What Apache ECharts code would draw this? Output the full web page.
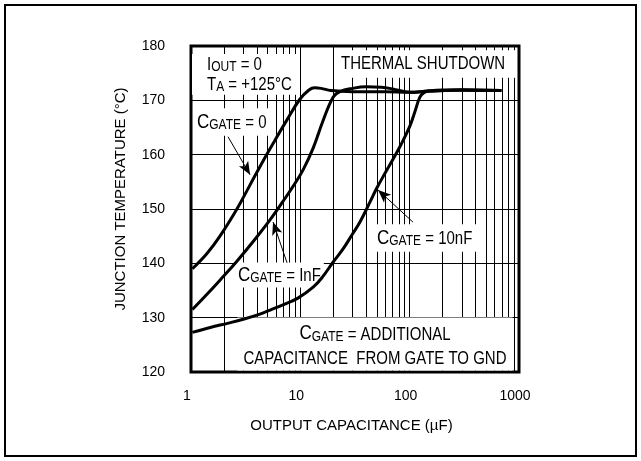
<!DOCTYPE html>
<html>
<head>
<meta charset="utf-8">
<script src="https://cdn.jsdelivr.net/npm/echarts@6/dist/echarts.min.js"></script>
<style>
  html, body { margin: 0; padding: 0; background: #fff; }
  #main { width: 641px; height: 461px; }
</style>
</head>
<body>
<div id="main"></div>
<script>
// junction temperature (C) vs output capacitance (uF)
const cgate0 = [[1.03, 139.0], [1.4, 141.8], [1.84, 145.0], [2.63, 150.0], [3.46, 154.4], [4.55, 158.8],
  [5.5, 161.7], [7.55, 166.4], [9.9, 170.2], [12, 171.9], [13.5, 172.3], [15.5, 172.2], [19, 171.8],
  [30, 171.6], [60, 171.6], [100, 171.5], [150, 171.7], [300, 171.9], [690, 171.8]]
const cgate1n = [[1.03, 131.5], [1.4, 134.3], [1.84, 136.9], [2.63, 140.4], [3.8, 144.3], [5.28, 148.0],
  [6.94, 151.4], [8.8, 154.5], [10.6, 157.2], [13.1, 161.2], [16.1, 166.2], [20, 170.6], [23, 171.6],
  [30, 172.2], [40, 172.5], [55, 172.4], [70, 172.1], [100, 171.5], [150, 171.7], [300, 171.9], [690, 171.8]]
const cgate10n = [[1.03, 127.3], [1.5, 128.2], [2.2, 129.0], [3.0, 129.7], [4.2, 130.6], [5.3, 131.4],
  [7.2, 132.5], [9.5, 133.6], [13.1, 135.6], [16.1, 137.6], [19.9, 140.2], [24.5, 142.6], [30, 145.4],
  [35.1, 147.6], [43.4, 151.3], [50.2, 153.9], [60, 156.7], [70.6, 159.2], [81.6, 161.5], [100.6, 165.3],
  [112, 168.0], [124, 170.6], [135, 171.4], [150, 171.7], [200, 171.9], [300, 171.9], [690, 171.8]]

// log minor grid (the decades come from the axis split lines)
const minorLines = [2, 3, 4, 5, 6, 7, 8, 9, 20, 30, 40, 50, 60, 70, 80, 90, 200, 300, 400, 500, 600, 700, 800, 900]
const yTicks = { min: 120, max: 180, step: 10 }

// arrows from the labels to the curves: [from, to]
const arrows = [
  [[2.18, 163.3], [3.47, 156.3]],
  [[7.56, 140.1], [5.63, 147.6]],
  [[107, 147.6], [51.4, 153.5]]
]

const FONT = "'Liberation Sans', Arial, sans-serif"
// the scanned datasheet lettering is taller than it is wide
const STRETCH = 1.2

const cgateRich = {
  c: { fontSize: 17, fontFamily: FONT, verticalAlign: 'bottom', lineHeight: 17 },
  g: { fontSize: 12, fontFamily: FONT, verticalAlign: 'bottom', lineHeight: 17 },
  n: { fontSize: 15, fontFamily: FONT, verticalAlign: 'bottom', lineHeight: 17 }
}

function label (x, y, text, extra) {
  return {
    type: 'text',
    x: x,
    y: y,
    z: 2,
    scaleY: STRETCH,
    style: Object.assign({
      text: text,
      fontFamily: FONT,
      fontSize: 15,
      fill: '#000',
      backgroundColor: '#fff',
      align: 'left',
      verticalAlign: 'middle'
    }, extra)
  }
}

function curve (name, data) {
  return {
    name: name,
    type: 'line',
    data: data,
    smooth: 0.4,
    showSymbol: false,
    z: 3,
    lineStyle: { color: '#000', width: 3 }
  }
}

const myChart = echarts.init(document.getElementById('main'))
const option = {
  animation: false,
  backgroundColor: '#fff',
  grid: {
    left: 191,
    right: 122,
    top: 46,
    bottom: 89,
    show: true,
    borderColor: '#000',
    borderWidth: 3
  },
  xAxis: {
    type: 'log',
    logBase: 10,
    min: 1,
    max: 1000,
    axisLine: { show: false },
    axisTick: { show: false },
    splitLine: { show: true, lineStyle: { color: '#000', width: 1 } },
    axisLabel: {
      fontFamily: FONT,
      fontSize: 14,
      color: '#000',
      margin: 17,
      padding: [0, 8, 0, 0],
      formatter: v => String(Math.round(v))
    },
    name: 'OUTPUT CAPACITANCE (µF)',
    nameLocation: 'middle',
    nameGap: 46,
    nameTextStyle: { fontFamily: FONT, fontSize: 15, color: '#000', padding: [0, 7, 0, 0] }
  },
  yAxis: {
    type: 'value',
    min: yTicks.min,
    max: yTicks.max,
    interval: yTicks.step,
    axisLine: { show: false },
    axisTick: { show: false },
    splitLine: { show: true, lineStyle: { color: '#000', width: 1 } },
    axisLabel: { fontFamily: FONT, fontSize: 14, color: '#000', margin: 26 },
    name: 'JUNCTION TEMPERATURE (°C)',
    nameLocation: 'middle',
    nameGap: 63,
    nameTextStyle: { fontFamily: FONT, fontSize: 15, color: '#000', padding: [0, 0, 0, 20] }
  },
  series: [
    {
      name: 'minor grid',
      type: 'line',
      data: [],
      z: 1,
      markLine: {
        z: 1,
        silent: true,
        symbol: 'none',
        label: { show: false },
        lineStyle: { color: '#000', width: 1, type: 'solid' },
        data: minorLines.map(v => ({ xAxis: v }))
      }
    },
    curve('CGATE = 0', cgate0),
    curve('CGATE = 1nF', cgate1n),
    curve('CGATE = 10nF', cgate10n),
    {
      name: 'arrows',
      type: 'line',
      data: [],
      z: 4,
      markLine: {
        z: 4,
        silent: true,
        symbol: ['none', 'arrow'],
        symbolSize: [8, 13],
        label: { show: false },
        lineStyle: { color: '#000', width: 1, type: 'solid' },
        data: arrows.map(a => [{ coord: a[0] }, { coord: a[1] }])
      }
    }
  ],
  graphic: [
    {
      type: 'rect',
      z: 0,
      shape: { x: 5, y: 5, width: 631, height: 451 },
      style: { fill: 'none', stroke: '#000', lineWidth: 2 }
    },
    label(192, 54, '{t|I}{s|OUT}{t| = 0}\n{t|T}{s|A}{t| = +125°C}', {
      verticalAlign: 'top',
      padding: [1, 6, 0, 15],
      rich: {
        t: { fontSize: 15, fontFamily: FONT, lineHeight: 16.5 },
        s: { fontSize: 12, fontFamily: FONT, lineHeight: 12.5, padding: [4, 0, 0, 0] }
      }
    }),
    label(337, 64, 'THERMAL SHUTDOWN', { padding: [4, 10, 4, 4] }),
    label(194, 122, '{c|C}{g|GATE}{n| = 0}', { padding: [3, 4, 3, 3], rich: cgateRich }),
    label(235, 275, '{c|C}{g|GATE}{n| = InF}', { padding: [2, 3, 2, 3], rich: cgateRich }),
    label(373, 238, '{c|C}{g|GATE}{n| = 10nF}', { padding: [3, 5, 3, 4], rich: cgateRich }),
    label(375, 344, '{c|C}{g|GATE}{n| = ADDITIONAL}\n{n|CAPACITANCE  FROM GATE TO GND}', {
      align: 'center',
      padding: [2, 6, 2, 6],
      rich: {
        c: { fontSize: 17, fontFamily: FONT, verticalAlign: 'bottom', lineHeight: 20 },
        g: { fontSize: 12, fontFamily: FONT, verticalAlign: 'bottom', lineHeight: 20 },
        n: { fontSize: 15, fontFamily: FONT, verticalAlign: 'bottom', lineHeight: 20 }
      }
    })
  ]
}
myChart.setOption(option)
</script>
</body>
</html>
